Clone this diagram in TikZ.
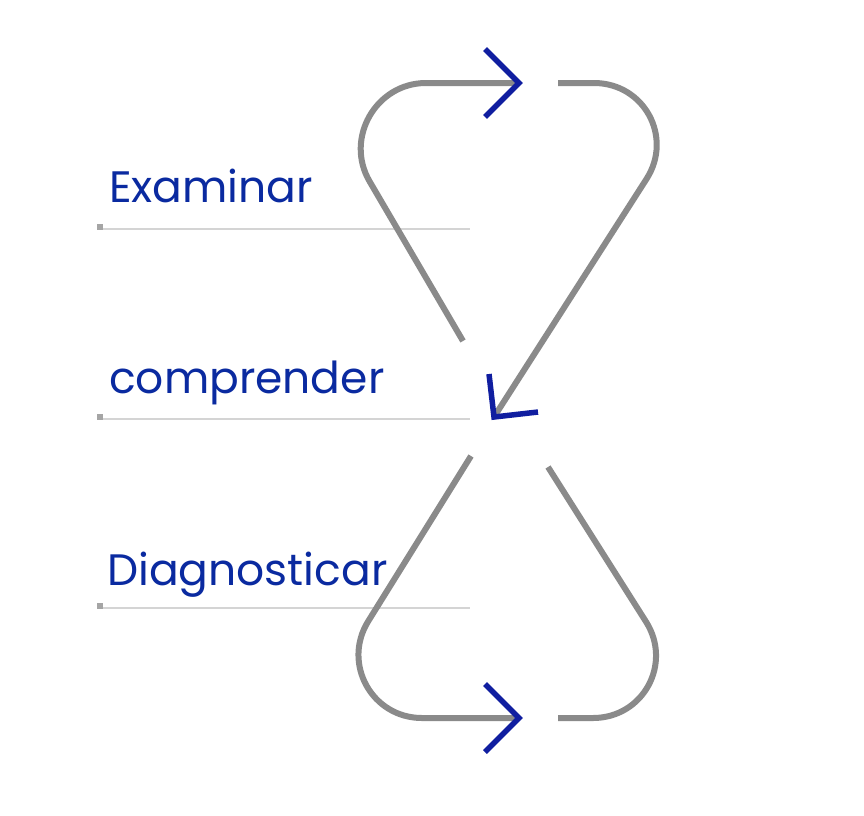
\documentclass[tikz,border=0pt]{standalone}
\usepackage{fontspec}
\setmainfont{Poppins}
\usetikzlibrary{calc}
\definecolor{loopgray}{RGB}{138,138,138}
\definecolor{arrowblue}{RGB}{16,30,160}
\definecolor{textblue}{RGB}{10,42,160}
\definecolor{rulegray}{RGB}{212,212,212}
\definecolor{markgray}{RGB}{165,165,165}
\newcommand{\drawloop}[3]{%
  \draw[loopline] (#1) -- ($(#2)!114pt!(#1)$)
    .. controls ($(#2)!64pt!(#1)$) and ($(#2)!64pt!(#3)$) ..
    ($(#2)!114pt!(#3)$) -- (#3);}
\begin{document}
\begin{tikzpicture}[x=1pt,y=-1pt,
  loopline/.style={draw=loopgray,line width=6pt,line cap=butt},
  chevron/.style={draw=arrowblue,line width=5.5pt,line join=miter,line cap=butt},
  rulerline/.style={draw=rulegray,line width=1.6pt},
  steplabel/.style={anchor=base west,inner sep=0pt,text=textblue,font=\fontsize{44}{50}\selectfont}]
\useasboundingbox (0,0) rectangle (864,815);
\fill[white] (0,0) rectangle (864,815);
% rulers with end marks
\foreach \yy/\nm in {229/ra,419/rb,608/rc}{
  \coordinate (\nm s) at (102,\yy);
  \coordinate (\nm e) at (470,\yy);
  \draw[rulerline] (\nm s) -- (\nm e);
  \fill[markgray] (96.5,\yy-5.5) rectangle (102.5,\yy+0.5);
}
% labels
\node[steplabel] (examinar) at (109,202) {Examinar};
\node[steplabel] (comprender) at (109,393) {comprender};
\node[steplabel] (diagnosticar) at (107,585) {Diagnosticar};
% loop geometry
\coordinate (v1) at (312,83);
\coordinate (v2) at (708,83);
\coordinate (v3) at (308,718);
\coordinate (v4) at (707,718);
\coordinate (a1) at (463,341);
\coordinate (h1) at (519,83);
\coordinate (h2) at (558,83);
\coordinate (m1) at (494,417);
\coordinate (a3) at (471,456);
\coordinate (h3) at (519,718);
\coordinate (h4) at (558,718);
\coordinate (a4) at (548,467);
\drawloop{a1}{v1}{h1}
\drawloop{h2}{v2}{m1}
\drawloop{a3}{v3}{h3}
\drawloop{h4}{v4}{a4}
% arrowheads
\draw[chevron] (485,49) -- (h1) -- (485,117);
\draw[chevron] (485,684) -- (h3) -- (485,752);
\draw[chevron] (489,374) -- (m1) -- (538,412);
\end{tikzpicture}
\end{document}
